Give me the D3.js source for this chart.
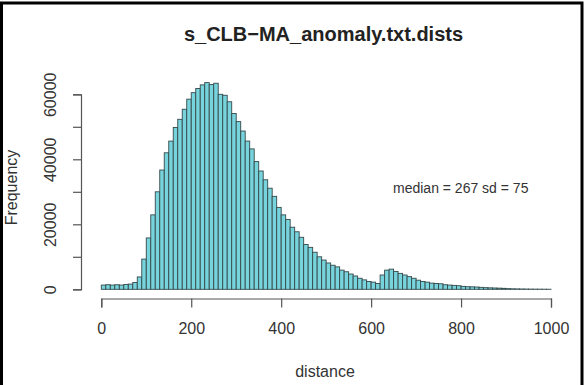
<!DOCTYPE html>
<html>
<head>
<meta charset="utf-8">
<script src="https://cdn.jsdelivr.net/npm/d3@7"></script>
<style>
  html, body { margin: 0; padding: 0; background: #fff; }
  svg { display: block; font-family: "Liberation Sans", Arial, Helvetica, sans-serif; }
</style>
</head>
<body>
<script>
// Histogram of pairwise distances, 10-unit bins from 0 to 1000
const binWidth = 10;
const binStarts = d3.range(0, 1000, binWidth);
const counts = [
  1300, 1400, 1300, 1400, 1300, 1500, 1600, 2100, 3800, 9300,
  15800, 22900, 30000, 36700, 42000, 45600, 49800, 52300, 55400, 58500,
  60500, 61800, 62900, 63600, 63000, 63400, 60000, 59700, 57700, 54100,
  51600, 48700, 45600, 43200, 39300, 36400, 33700, 31100, 28600, 25200,
  22900, 21500, 19100, 17700, 16000, 13800, 12900, 11400, 10000, 9000,
  8100, 7400, 6900, 5900, 5400, 4700, 4100, 3400, 2900, 2400,
  2200, 1800, 4400, 5900, 6200, 5500, 4900, 4400, 3900, 3400,
  2800, 2400, 2200, 1900, 1800, 1700, 1400, 1300, 1200, 1100,
  900, 800, 750, 700, 600, 500, 450, 400, 350, 300,
  200, 150, 120, 100, 80, 60, 50, 40, 30, 20
];
const xTicks = [0, 200, 400, 600, 800, 1000];
const yTicks = [0, 10000, 20000, 30000, 40000, 50000, 60000];
const yTickLabels = ["0", "", "20000", "", "40000", "", "60000"];
const titleText = "s_CLB\u2212MA_anomaly.txt.dists";
const xLabel = "distance";
const yLabel = "Frequency";
const statsText = "median = 267 sd = 75";

const W = 584, H = 385;
const svg = d3.select("body").append("svg").attr("width", W).attr("height", H);

svg.append("rect").attr("width", W).attr("height", H).attr("fill", "#fff");

const x = d3.scaleLinear().domain([0, 1000]).range([101.3, 551]);
const y = d3.scaleLinear().domain([0, 60000]).range([289.3, 94.3]);

// bars
svg.append("g")
  .selectAll("rect")
  .data(binStarts.map((s, i) => ({ s, v: counts[i] })))
  .join("rect")
  .attr("x", d => x(d.s))
  .attr("width", d => x(d.s + binWidth) - x(d.s))
  .attr("y", d => y(d.v))
  .attr("height", d => y(0) - y(d.v))
  .attr("fill", "#78d4dc")
  .attr("stroke", "#34494b")
  .attr("stroke-width", 0.9);

// x axis
const gx = svg.append("g")
  .attr("transform", "translate(0,298.5)")
  .call(d3.axisBottom(x).tickValues(xTicks).tickSizeOuter(0).tickSize(9).tickFormat(d3.format("d")));
gx.select(".domain").attr("stroke", "#555").attr("stroke-width", 1.2);
gx.selectAll(".tick line").attr("stroke", "#555").attr("stroke-width", 1.2);
gx.selectAll(".tick text")
  .attr("font-size", 16).attr("fill", "#333")
  .attr("font-family", "Liberation Sans, Arial, sans-serif")
  .attr("y", 0).attr("dy", null)
  .attr("transform", "translate(0,35.5)");

// y axis
const gy = svg.append("g")
  .attr("transform", "translate(81,0)")
  .call(d3.axisLeft(y).tickValues(yTicks).tickSizeOuter(0).tickSize(8)
    .tickFormat((d, i) => yTickLabels[i]));
gy.select(".domain").attr("stroke", "#555").attr("stroke-width", 1.2);
gy.selectAll(".tick line").attr("stroke", "#555").attr("stroke-width", 1.2);
gy.selectAll(".tick text")
  .attr("font-size", 16).attr("fill", "#333")
  .attr("font-family", "Liberation Sans, Arial, sans-serif")
  .attr("x", 0).attr("dy", null)
  .attr("text-anchor", "middle")
  .attr("transform", "translate(-25,0) rotate(-90)");

// title
svg.append("text")
  .attr("x", 323.5).attr("y", 41)
  .attr("text-anchor", "middle")
  .attr("font-size", 20).attr("font-weight", "bold").attr("fill", "#222")
  .text(titleText);

// axis titles
svg.append("text")
  .attr("x", 325).attr("y", 377)
  .attr("text-anchor", "middle")
  .attr("font-size", 16).attr("fill", "#333")
  .text(xLabel);

svg.append("text")
  .attr("transform", "translate(17,187.5) rotate(-90)")
  .attr("text-anchor", "middle")
  .attr("font-size", 16).attr("fill", "#333")
  .text(yLabel);

// summary annotation
svg.append("text")
  .attr("x", 393).attr("y", 193)
  .attr("font-size", 14).attr("fill", "#333")
  .text(statsText);

// frame
svg.append("path")
  .attr("d", `M1.5,${H + 5} L1.5,3 L${W - 2},3 L${W - 2},${H + 5}`)
  .attr("fill", "none")
  .attr("stroke", "#000")
  .attr("stroke-width", 3);
</script>
</body>
</html>
